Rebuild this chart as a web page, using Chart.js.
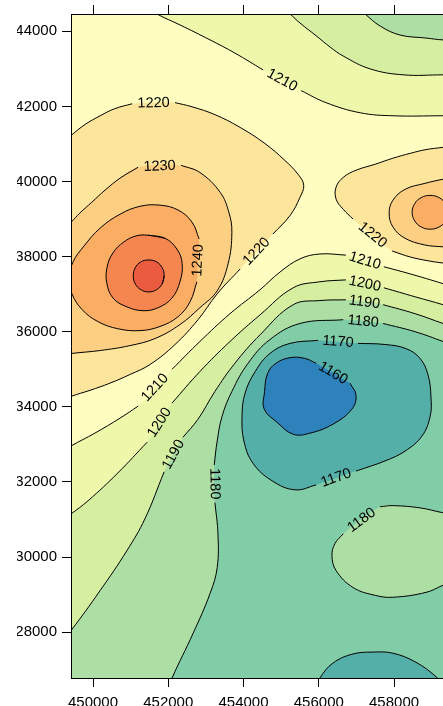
<!DOCTYPE html>
<html>
<head>
<meta charset="utf-8">
<script src="https://cdn.jsdelivr.net/npm/chart.js@4.4.1/dist/chart.umd.min.js"></script>
<style>
  html, body { margin: 0; padding: 0; background: #fff; overflow: hidden; }
  #wrap { position: relative; width: 443px; height: 706px; overflow: hidden; }
  #contour { position: absolute; left: 17px; top: 0; display: block; }
</style>
</head>
<body>
<div id="wrap"><canvas id="contour" width="453" height="706"></canvas></div>
<script>
// axis ranges (easting / northing) and ticks
const xRange = [449415, 459540];
const yRange = [26780, 44460];
const xTicks = [450000, 452000, 454000, 456000, 458000];
const yTicks = [28000, 30000, 32000, 34000, 36000, 38000, 40000, 42000, 44000];

// contour lines, [easting, northing]; null = label gap
const c1220L = [[449120,34150],[449420,34280],[449920,34440],[450450,34630],[450980,34860],[451520,35130],[452180,35660],[452790,36320],[453300,37010],[453910,37670],null,[454780,38600],[455240,39100],[455500,39580],[455600,39900],[455450,40190],[455100,40560],[454570,41010],[453910,41440],[453240,41780],[452630,41990],[452180,42100],null,[451040,42070],[450580,41940],[450190,41750],[449790,41520],[449420,41230],[449120,40990]];
const c1230L = [[449120,35370],[449420,35420],[450190,35500],[450980,35630],[451650,35820],[452310,36190],[452840,36640],[453300,37090],[453590,37810],[453690,38650],[453610,39180],[453380,39710],[452840,40240],[452340,40430],null,[451200,40380],[450720,40090],[450320,39770],[449970,39450],[449650,39160],[449420,38920],[449120,38650]];
const c1240L = [[452760,37330],[452580,36800],[452260,36400],[451780,36140],[451250,36030],[450660,36080],[450130,36270],[449710,36590],[449440,37010],[449360,37410],[449470,37860],[449760,38280],[450190,38760],[450720,39130],[451250,39340],[451780,39370],[452260,39240],[452630,38920],[452820,38470],null];
const c1250L = [[451460,38570],[451910,38490],[452230,38200],[452370,37810],[452310,37330],[452100,36900],[451730,36640],[451330,36560],[450880,36670],[450530,36900],[450370,37280],[450370,37700],[450530,38100],[450820,38390],[451140,38550]];
const c1260L = [[451890,37490],[451840,37280],[451690,37120],[451480,37060],[451270,37120],[451120,37280],[451070,37490],[451120,37700],[451270,37860],[451480,37910],[451690,37860],[451840,37700]];
const c1220R = [[459620,40960],[459300,40910],[458850,40850],[458430,40750],[457970,40620],[457500,40460],[456990,40300],[456650,40110],[456460,39850],[456460,39530],[456650,39260],[456910,39000],null,[457950,38150],[458430,37990],[458900,37890],[459300,37830],[459620,37810]];
const c1230R = [[459620,40110],[459300,40060],[458820,39950],[458290,39790],[457970,39500],[457870,39160],[457970,38790],[458290,38490],[458820,38310],[459300,38260],[459620,38230]];
const c1240R = [[459440,39180],[459370,38950],[459200,38790],[458960,38730],[458720,38790],[458550,38950],[458480,39180],[458550,39410],[458720,39570],[458960,39630],[459200,39570],[459370,39410]];
const c1210T = [[451460,44640],[451700,44460],[452310,44170],[453110,43770],[453770,43420],[454520,42970],null,[455530,42420],[456190,42100],[457100,41830],[457970,41750],[459300,41750],[459620,41750]];
const c1200T = [[455020,44670],[455240,44460],[455500,44220],[455930,43880],[456300,43580],[456650,43340],[457360,43000],[458240,42840],[459300,42840],[459620,42840]];
const c1190T = [[457040,44640],[457230,44460],[457630,44140],[458160,43900],[458850,43820],[459300,43770],[459620,43770]];
const c1210B = [[449120,32770],[449420,32960],[450050,33300],[450720,33700],[451200,34020],null,[452100,35000],[452840,35740],[453640,36480],[454440,37120],[454970,37590],[455500,37940],[456030,38070],[456720,38040],null,[457730,37730],[458430,37540],[459300,37280],[459620,37170]];
const c1200B = [[449120,30920],[449420,31150],[449870,31500],[450660,32240],[451440,33060],null,[452100,34100],[452840,34940],[453640,35740],[454440,36450],[455320,37170],[456030,37330],[456720,37380],null,[457730,37170],[458560,36930],[459300,36720],[459620,36610]];
const c1190B = [[449180,27790],[449420,28050],[450190,29110],[450900,30170],[451380,31020],[451890,32270],null,[452390,33190],[452790,33670],[453240,34410],[453770,35160],[454440,35920],[455320,36720],[456030,36830],[456720,36850],null,[457710,36720],[458560,36480],[459300,36220],[459620,36110]];
const c1180B = [[451990,26460],[452100,26780],[452660,27970],[453110,29030],[453300,29720],[453320,30620],[453240,31450],null,[453220,32450],[453300,33090],[453430,33750],[453690,34410],[454120,35160],[454700,35790],[455500,36220],[456650,36320],null,[457710,36220],[458560,36000],[459300,35740],[459620,35610]];
const c1180E = [[459620,31130],[459300,31180],[458690,31310],[457970,31370],[457630,31340],null,[456650,30620],[456430,30360],[456350,30040],[456460,29640],[456910,29190],[457500,28980],[457970,28930],[458850,29060],[459300,29250],[459620,29380]];
const c1170R = [[457040,35690],[457760,35660],[458320,35550],[458690,35290],[458900,34860],[458980,34280],[458960,33750],[458740,33220],[458290,32820],[457760,32560],[456990,32290],null,[455930,31920],[455370,31790],[454760,32030],[454250,32500],[454010,33090],[453960,33750],[454040,34360],[454310,34940],[454700,35420],[455240,35690],[455980,35770],null];
const c1170H = [[455900,26460],[456030,26780],[456380,27180],[456910,27420],[457440,27470],[457970,27440],[458580,27200],[459120,26810],[459360,26520]];
const c1160 = [[456830,34630],[456990,34310],[456880,33940],[456380,33540],[455770,33300],[455320,33270],[454890,33590],[454550,33940],[454560,34410],[454640,34890],[454860,35160],[455240,35310],[455630,35290],[455930,35160],null];

const contours = [
  { level: 1220, pts: c1220L }, { level: 1230, pts: c1230L }, { level: 1240, pts: c1240L },
  { level: 1250, pts: c1250L, loop: true }, { level: 1260, pts: c1260L, loop: true },
  { level: 1220, pts: c1220R }, { level: 1230, pts: c1230R }, { level: 1240, pts: c1240R, loop: true },
  { level: 1210, pts: c1210T }, { level: 1200, pts: c1200T }, { level: 1190, pts: c1190T },
  { level: 1210, pts: c1210B }, { level: 1200, pts: c1200B }, { level: 1190, pts: c1190B },
  { level: 1180, pts: c1180B }, { level: 1180, pts: c1180E }, { level: 1170, pts: c1170R },
  { level: 1170, pts: c1170H }, { level: 1160, pts: c1160 }
];

// bands, painted bottom to top; closure = points outside the frame that close the shape
const baseColor = "#FFFEC0";
const bands = [
  { c: 0, color: "#FDE59B", closure: [[448500,40990],[448500,34150]] },
  { c: 1, color: "#FDCF82", closure: [[448500,38650],[448500,35370]] },
  { c: 2, color: "#FBAE63" },
  { c: 3, color: "#F6864F" },
  { c: 4, color: "#EA5B3F" },
  { c: 5, color: "#FDE59B", closure: [[460500,37810],[460500,40960]] },
  { c: 6, color: "#FDCF82", closure: [[460500,38230],[460500,40110]] },
  { c: 7, color: "#FBAE63" },
  { c: 8, color: "#EEF8AB", closure: [[460500,41750],[460500,45500],[451460,45500]] },
  { c: 9, color: "#D5EE9F", closure: [[460500,42840],[460500,45500],[455020,45500]] },
  { c: 10, color: "#ADDEA4", closure: [[460500,43770],[460500,45500],[457040,45500]] },
  { c: 11, color: "#EEF8AB", closure: [[460500,37170],[460500,25500],[448500,25500],[448500,32770]] },
  { c: 12, color: "#D5EE9F", closure: [[460500,36610],[460500,25500],[448500,25500],[448500,30920]] },
  { c: 13, color: "#ADDEA4", closure: [[460500,36110],[460500,25500],[448500,25500],[448500,27790]] },
  { c: 14, color: "#80CDA7", closure: [[460500,35610],[460500,25500],[451990,25500]] },
  { c: 15, color: "#ADDEA4", closure: [[460500,29380],[460500,31130]] },
  { c: 16, color: "#55AFA9" },
  { c: 17, color: "#55AFA9", closure: [[459360,25500],[455900,25500]] },
  { c: 18, color: "#2D82BB" }
];

const xy = p => ({ x: p[0], y: p[1] });

const datasets = [];
bands.forEach(b => {
  const con = contours[b.c];
  let pts = con.pts.filter(p => p);
  if (con.loop) pts = pts.concat([pts[0], pts[1]]);
  pts = pts.concat(b.closure || []);
  datasets.push({ data: pts.map(xy), showLine: true, fill: "shape", backgroundColor: b.color, borderWidth: 0 });
});
contours.forEach(con => {
  let pieces = [[]];
  con.pts.forEach(p => { if (p) pieces[pieces.length - 1].push(p); else pieces.push([]); });
  if (con.loop) pieces = [con.pts.concat([con.pts[0], con.pts[1]])];
  pieces.filter(pc => pc.length > 1).forEach(pc => {
    datasets.push({ data: pc.map(xy), showLine: true, fill: false, borderColor: "#000", borderWidth: 1 });
  });
});
// first dataset is drawn last
datasets.reverse();

const background = {
  id: "background",
  beforeDatasetsDraw(chart) {
    const a = chart.chartArea, ctx = chart.ctx;
    ctx.save();
    ctx.fillStyle = baseColor;
    ctx.fillRect(a.left, a.top, a.right - a.left, a.bottom - a.top);
    ctx.restore();
  }
};

// contour labels sit in the gaps, turned along the line
const contourLabels = {
  id: "contourLabels",
  afterDatasetsDraw(chart) {
    const ctx = chart.ctx, xs = chart.scales.x, ys = chart.scales.y;
    ctx.save();
    ctx.font = '14.5px "Liberation Sans", Arial, sans-serif';
    ctx.fillStyle = "#000";
    ctx.textAlign = "center";
    ctx.textBaseline = "middle";
    contours.forEach(con => {
      const p = con.pts, n = p.length;
      p.forEach((q, i) => {
        if (q) return;
        const a = p[(i - 1 + n) % n], b = p[(i + 1) % n];
        const ax = xs.getPixelForValue(a[0]), ay = ys.getPixelForValue(a[1]);
        const bx = xs.getPixelForValue(b[0]), by = ys.getPixelForValue(b[1]);
        let ang = Math.atan2(by - ay, bx - ax);
        if (ang > Math.PI / 2) ang -= Math.PI;
        if (ang <= -Math.PI / 2) ang += Math.PI;
        ctx.save();
        ctx.translate((ax + bx) / 2, (ay + by) / 2);
        ctx.rotate(ang);
        ctx.fillText(String(con.level), 0, 0);
        ctx.restore();
      });
    });
    ctx.restore();
  }
};

Chart.defaults.font.family = '"Liberation Sans", Arial, sans-serif';
Chart.defaults.font.size = 15;
Chart.defaults.color = "#000";

const axis = (pos, range, ticks, size, labels) => ({
  type: "linear",
  position: pos,
  min: range[0],
  max: range[1],
  afterBuildTicks: s => { s.ticks = ticks.map(v => ({ value: v })); },
  ticks: {
    display: labels,
    autoSkip: false,
    maxRotation: 0,
    padding: pos === "left" ? 5 : 7,
    color: "#000",
    callback: v => String(v)
  },
  grid: { drawOnChartArea: false, tickLength: 9, tickColor: "#000", tickWidth: 1 },
  border: { display: true, color: "#000", width: 1, z: 1 },
  afterFit: s => {
    if (pos === "left" || pos === "right") s.width = size; else s.height = size;
  }
});

new Chart(document.getElementById("contour"), {
  type: "scatter",
  data: { datasets: datasets },
  options: {
    responsive: false,
    animation: false,
    events: [],
    layout: { padding: 0 },
    elements: {
      point: { radius: 0 },
      line: { tension: 0.4, capBezierPoints: false }
    },
    plugins: { legend: { display: false }, tooltip: { enabled: false } },
    scales: {
      x: axis("bottom", xRange, xTicks, 28, true),
      x2: axis("top", xRange, xTicks, 11, false),
      y: axis("left", yRange, yTicks, 54, true),
      y2: axis("right", yRange, yTicks, 18, false)
    }
  },
  plugins: [background, contourLabels]
});
</script>
</body>
</html>
